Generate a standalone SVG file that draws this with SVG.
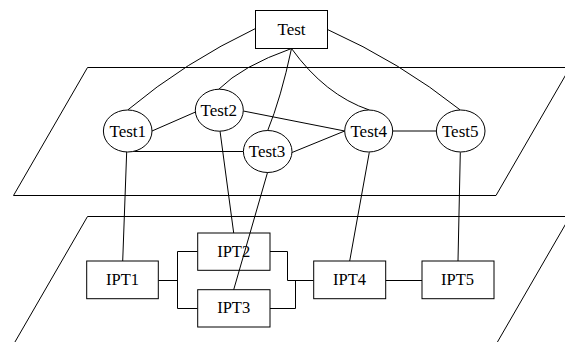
<svg xmlns="http://www.w3.org/2000/svg" width="565" height="342" viewBox="0 0 565 342">
<style>
.plane{fill:none;stroke:#000;stroke-width:1}
.node{fill:#fff;stroke:#000;stroke-width:1}
.edge{fill:none;stroke:#000;stroke-width:1}
.lbl{font-family:"Liberation Serif","Times New Roman",serif;font-size:17px;fill:#000;text-anchor:middle}
.ipt{font-family:"Liberation Serif","Times New Roman",serif;font-size:16.5px;fill:#000;text-anchor:middle}
</style>
<g id="planes">
<polygon class="plane" points="87.5,67.5 570,67.5 496,195.5 13.5,195.5"/>
<polygon class="plane" points="87.5,216.5 570,216.5 496,344.5 13.5,344.5"/>
</g>
<g id="connectors">
<path class="edge" d="M255.5,28.5 Q185,62 127.7,110"/>
<path class="edge" d="M327.5,29.5 Q400,62 460.3,110"/>
<path class="edge" d="M291.5,48.5 Q242,66 218.7,89.3"/>
<path class="edge" d="M291.5,48.5 Q281,98 267.5,131"/>
<path class="edge" d="M291.5,48.5 Q325,95 369.3,110"/>
<line class="edge" x1="152" y1="131" x2="195.5" y2="112"/>
<line class="edge" x1="243.3" y1="111" x2="344.7" y2="131"/>
<line class="edge" x1="292" y1="152.5" x2="344.7" y2="131"/>
<line class="edge" x1="392.7" y1="131" x2="436.3" y2="131"/>
<line class="edge" x1="126.7" y1="151.5" x2="243.3" y2="151.5"/>
<line class="edge" x1="126.7" y1="151.5" x2="122.7" y2="261"/>
<line class="edge" x1="220" y1="131" x2="233.7" y2="233"/>
<line class="edge" x1="369.3" y1="152.3" x2="349.7" y2="261"/>
<line class="edge" x1="460.3" y1="152.3" x2="458" y2="261"/>
<path class="edge" d="M158.3,280.5 H177.5 M177.5,251.5 V308.5 M177.5,251.5 H197.7 M177.5,308.5 H197.7"/>
<path class="edge" d="M270,251.5 H287.5 V280.5 H313.7 M270,308.5 H295.5 V280.5"/>
<line class="edge" x1="385.7" y1="280.5" x2="422" y2="280.5"/>
</g>
<g id="Test">
<rect class="node" x="255.5" y="10.5" width="72" height="38"/>
<text class="lbl" x="291.5" y="34.5">Test</text>
</g>
<g id="Test1">
<ellipse class="node" cx="127.7" cy="131" rx="24.3" ry="21"/>
<text class="lbl" x="127.8" y="136.7">Test1</text>
</g>
<g id="Test2">
<ellipse class="node" cx="219.3" cy="110.2" rx="24" ry="21"/>
<text class="lbl" x="218.8" y="115.9">Test2</text>
</g>
<g id="Test4">
<ellipse class="node" cx="368.7" cy="131" rx="24" ry="21"/>
<text class="lbl" x="368.7" y="136.7">Test4</text>
</g>
<g id="Test5">
<ellipse class="node" cx="460.7" cy="131" rx="24.3" ry="21"/>
<text class="lbl" x="460.2" y="136.7">Test5</text>
</g>
<g id="Test3">
<ellipse class="node" cx="267.7" cy="151.5" rx="24.3" ry="21"/>
<text class="lbl" x="267" y="157.2">Test3</text>
</g>
<g id="IPT1">
<rect class="node" x="86.7" y="261" width="71.6" height="37.7"/>
<text class="ipt" x="122.5" y="285">IPT1</text>
</g>
<g id="IPT2">
<rect class="node" x="197.7" y="233" width="72.3" height="37.3"/>
<text class="ipt" x="233.7" y="256.7">IPT2</text>
</g>
<g id="IPT3">
<rect class="node" x="197.7" y="289.7" width="72.3" height="37.3"/>
<text class="ipt" x="233.7" y="313.3">IPT3</text>
</g>
<g id="IPT4">
<rect class="node" x="313.7" y="261" width="72" height="37.7"/>
<text class="ipt" x="349.6" y="285">IPT4</text>
</g>
<g id="IPT5">
<rect class="node" x="422" y="261" width="72" height="37.7"/>
<text class="ipt" x="457.6" y="285">IPT5</text>
</g>
<line class="edge" x1="267.5" y1="172.5" x2="233.7" y2="289.7"/>
</svg>
